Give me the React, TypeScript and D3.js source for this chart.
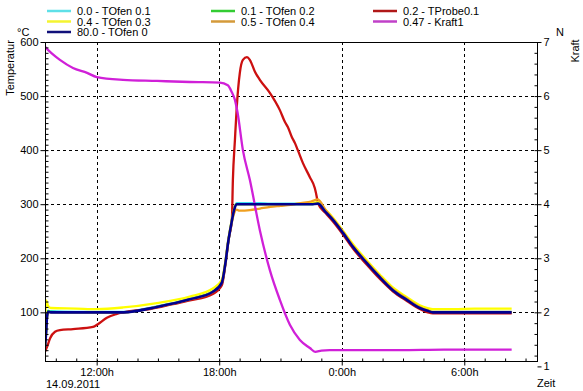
import React, { useEffect, useRef } from 'react';
import * as d3 from 'd3';

// time in hours since 14.09.2011 00:00
const ovenHours = [9.47, 9.52, 9.57, 9.62, 9.75, 11.0, 12.0, 13.3, 14.95, 16.56, 17.69, 18.13, 18.3, 18.44, 18.6, 18.72, 18.85, 19.0, 19.5, 20.0, 20.5, 21.0, 21.5, 22.0, 22.5, 22.83, 23.2, 23.57, 24.06, 24.55, 25.23, 25.86, 26.5, 27.19, 27.82, 28.2, 28.46, 29.5, 30.5, 31.5, 32.32];
const tOfen01 = [38, 65, 95, 103, 102, 101, 101, 101, 111, 125, 139, 156, 191, 231, 266, 290, 302, 302, 302, 302, 301, 301, 301, 301, 301, 302, 287, 272, 248, 222, 192, 166, 142, 124, 109, 104, 101, 101, 101, 101, 101];
const tOfen02 = [37, 62, 93, 102, 101, 100, 100, 100, 110, 124, 138, 155, 190, 230, 265, 289, 300, 300, 300, 300, 300, 300, 300, 300, 300, 301, 286, 271, 247, 221, 191, 165, 141, 123, 108, 103, 100, 100, 100, 100, 100];
const tOfen03 = [40, 122, 118, 112, 108, 107, 106, 109, 117, 129, 144, 160, 194, 233, 268, 290, 300, 300, 300, 300, 300, 300, 300, 301, 302, 304, 290, 275, 251, 226, 196, 170, 146, 128, 113, 108, 106, 106, 107, 107, 107];
const tOfen04 = [36, 60, 92, 101, 100, 100, 100, 100, 110, 124, 138, 155, 190, 230, 263, 282, 290, 288, 289, 292, 295, 297, 299, 302, 305, 309, 290, 273, 249, 223, 193, 167, 143, 125, 110, 104, 101, 101, 101, 101, 101];
const tOfen0 = [36, 60, 92, 101, 100, 100, 100, 100, 110, 124, 138, 155, 190, 230, 265, 288, 300, 300, 300, 300, 300, 300, 300, 300, 300, 301, 286, 271, 247, 221, 191, 165, 141, 123, 108, 103, 100, 100, 100, 100, 100];

const probeHours = [9.47, 9.57, 9.72, 9.96, 10.2, 10.84, 11.82, 12.06, 12.5, 12.99, 13.63, 14.61, 15.73, 16.56, 17.69, 18.13, 18.3, 18.47, 18.62, 18.67, 18.77, 18.86, 19.01, 19.16, 19.36, 19.5, 19.75, 19.99, 20.48, 20.97, 21.22, 21.36, 21.56, 21.71, 21.85, 22.1, 22.44, 22.68, 22.78, 22.83, 23.2, 23.57, 24.06, 24.55, 25.23, 25.86, 26.5, 27.19, 27.82, 28.2, 28.46, 29.5, 30.5, 31.5, 32.32];
const tProbe01 = [27, 36, 52, 64, 67, 69, 73, 78, 90, 97, 102, 106, 115, 122, 134, 150, 188, 237, 271, 345, 419, 480, 543, 567, 572, 567, 545, 530, 506, 474, 452, 443, 424, 413, 400, 376, 350, 330, 313, 302, 284, 268, 244, 218, 188, 162, 139, 121, 106, 100, 98, 98, 98, 98, 98];

const forceHours = [9.47, 9.6, 9.8, 10.2, 10.84, 11.53, 12.01, 13.29, 14.95, 16.56, 18.03, 18.42, 18.62, 18.77, 18.9, 19.16, 19.5, 19.99, 20.48, 20.97, 21.46, 21.95, 22.44, 22.7, 23.0, 23.41, 25.0, 26.84, 29.0, 31.0, 32.32];
const kraft1 = [6.91, 6.86, 6.79, 6.67, 6.52, 6.43, 6.35, 6.30, 6.28, 6.26, 6.25, 6.20, 6.07, 5.93, 5.69, 5.00, 4.45, 3.52, 2.78, 2.23, 1.77, 1.49, 1.34, 1.27, 1.29, 1.30, 1.30, 1.30, 1.31, 1.31, 1.31];

const legendLabels = ['0.0 - TOfen 0.1', '0.1 - TOfen 0.2', '0.2 - TProbe0.1', '0.4 - TOfen 0.3', '0.5 - TOfen 0.4', '0.47 - Kraft1', '80.0 - TOfen 0'];
const legendColors = ['#5ee0e8', '#33cc33', '#b01818', '#f4f430', '#d49a3a', '#c040c8', '#10107a'];
const lineColors = ['#40e0f0', '#22cc22', '#cc1010', '#ffff00', '#f0a020', '#d020d8', '#000090'];

const tempTicks = [100, 200, 300, 400, 500, 600];
const forceTicks = [1, 2, 3, 4, 5, 6, 7];
const timeTicks = [12, 18, 24, 30];

export default function App() {
  const ref = useRef<SVGSVGElement>(null);

  useEffect(() => {
    const svg = d3.select(ref.current);
    svg.selectAll('*').remove();

    const left = 45, right = 538, top = 42, bottom = 361;
    const font = '"Liberation Sans", Arial, sans-serif';

    const x = d3.scaleLinear().domain([9.47, 33.61]).range([left, right]);
    const yT = d3.scaleLinear().domain([0, 600]).range([366.4, top]);
    const yN = d3.scaleLinear().domain([1, 7]).range([366.4, top]);

    svg.append('defs').append('clipPath').attr('id', 'plot-clip')
      .append('rect').attr('x', left).attr('y', top)
      .attr('width', right - left).attr('height', bottom - top);

    // grid
    const grid = svg.append('g').attr('stroke', '#000').attr('stroke-dasharray', '3,3');
    grid.selectAll('.vg').data(timeTicks).join('line')
      .attr('x1', d => Math.round(x(d)) + 0.5).attr('x2', d => Math.round(x(d)) + 0.5)
      .attr('y1', top).attr('y2', bottom);
    grid.selectAll('.hg').data(tempTicks.slice(0, 5)).join('line')
      .attr('x1', left).attr('x2', right)
      .attr('y1', d => Math.round(yT(d)) + 0.5).attr('y2', d => Math.round(yT(d)) + 0.5);

    // series, drawn in legend order
    const series = [
      { h: ovenHours, v: tOfen01, y: yT },
      { h: ovenHours, v: tOfen02, y: yT },
      { h: probeHours, v: tProbe01, y: yT },
      { h: ovenHours, v: tOfen03, y: yT },
      { h: ovenHours, v: tOfen04, y: yT },
      { h: forceHours, v: kraft1, y: yN },
      { h: ovenHours, v: tOfen0, y: yT },
    ];
    const lines = svg.append('g').attr('clip-path', 'url(#plot-clip)');
    series.forEach((s, i) => {
      const line = d3.line<number>()
        .x((_, j) => x(s.h[j]))
        .y(d => s.y(d))
        .curve(d3.curveMonotoneX);
      lines.append('path')
        .datum(s.v)
        .attr('fill', 'none')
        .attr('stroke', lineColors[i])
        .attr('stroke-width', i === 6 ? 2.6 : 2.3)
        .attr('stroke-linejoin', 'round')
        .attr('d', line);
    });

    // frame
    svg.append('rect')
      .attr('x', left + 0.5).attr('y', top + 0.5)
      .attr('width', right - left - 1).attr('height', bottom - top)
      .attr('fill', 'none').attr('stroke', '#000');

    const styleAxis = (g: any) => {
      g.select('.domain').remove();
      g.selectAll('line').attr('stroke', '#000');
      g.selectAll('text').attr('font-family', font).attr('font-size', 11).attr('fill', '#000');
    };

    // left axis
    svg.append('g').attr('transform', `translate(${left + 0.5},0)`)
      .call(d3.axisLeft(yT).tickValues(tempTicks).tickSize(5).tickPadding(2))
      .call(styleAxis);
    svg.append('g').attr('transform', `translate(${left + 0.5},0)`)
      .call(d3.axisRight(yT).tickValues(d3.range(10, 600, 10)).tickSize(3).tickFormat(() => ''))
      .call(styleAxis);

    // right axis
    svg.append('g').attr('transform', `translate(${right - 0.5},0)`)
      .call(d3.axisRight(yN).tickValues(forceTicks).tickSize(4).tickPadding(2).tickFormat(d3.format('d')))
      .call(styleAxis);
    svg.append('g').attr('transform', `translate(${right - 0.5},0)`)
      .call(d3.axisLeft(yN).tickValues(d3.range(1.2, 6.9, 0.2)).tickSize(3).tickFormat(() => ''))
      .call(styleAxis);

    // bottom axis
    svg.append('g').attr('transform', `translate(0,${bottom + 0.5})`)
      .call(d3.axisBottom(x).tickValues(timeTicks).tickSize(4).tickPadding(3)
        .tickFormat(d => `${(+d) % 24}:00h`))
      .call(styleAxis);
    svg.append('g').attr('transform', `translate(0,${bottom + 0.5})`)
      .call(d3.axisTop(x).tickValues(d3.range(10, 34, 1)).tickSize(3).tickFormat(() => ''))
      .call(styleAxis);

    const label = (t: string, px: number, py: number, anchor = 'start', rot = 0) => {
      svg.append('text')
        .attr('transform', `translate(${px},${py}) rotate(${rot})`)
        .attr('text-anchor', anchor)
        .attr('font-family', font).attr('font-size', 11).attr('fill', '#000')
        .text(t);
    };
    label('°C', 17, 36);
    label('N', 556, 36);
    label('Temperatur', 14, 68, 'middle', -90);
    label('Kraft', 579, 51, 'middle', -90);
    label('14.09.2011', 46, 388);
    label('Zeit', 537, 387);

    // legend
    const colX = [47, 211, 373];
    const legend = svg.append('g');
    legendLabels.forEach((t, i) => {
      const cx = colX[i % 3];
      const cy = 11 + Math.floor(i / 3) * 10.5;
      legend.append('line')
        .attr('x1', cx).attr('x2', cx + 24).attr('y1', cy).attr('y2', cy)
        .attr('stroke', legendColors[i]).attr('stroke-width', 2.5);
      legend.append('text')
        .attr('x', cx + 30).attr('y', cy + 4)
        .attr('font-family', font).attr('font-size', 11).attr('fill', '#000')
        .text(t);
    });
  }, []);

  return (
    <svg ref={ref} width={583} height={391}
      style={{ position: 'absolute', left: 0, top: 0, background: '#fff' }} />
  );
}
